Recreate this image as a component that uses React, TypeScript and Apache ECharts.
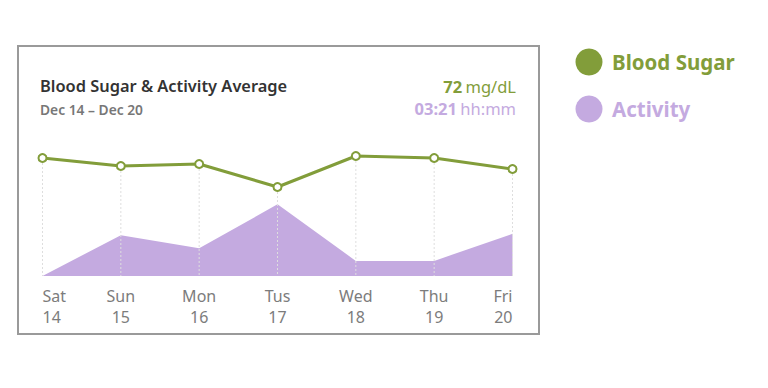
import React, { useEffect, useRef } from "react";
import * as echarts from "echarts";

const days = ["Sat", "Sun", "Mon", "Tus", "Wed", "Thu", "Fri"];
const dates = ["14", "15", "16", "17", "18", "19", "20"];
const bloodSugar = [76, 72, 73, 61.5, 77, 76, 70.5];
const activityMinutes = [0, 270, 184, 474, 100, 100, 279];
const avgSugar = "72";
const avgActivity = "03:21";

const GREEN = "#829d3a";
const PURPLE = "#c4aae0";
const FONT = "'Noto Sans', 'Open Sans', sans-serif";
const SUGAR_MIN = 17;
const SUGAR_MAX = 85;

export default function App() {
  const ref = useRef<HTMLDivElement>(null);
  useEffect(() => {
    if (!ref.current) return;
    const chart = echarts.init(ref.current, null, { renderer: "svg" });
    const categories = days.map((d, i) => d + "\n" + dates[i]);
    chart.setOption({
      animation: false,
      textStyle: { fontFamily: FONT },
      grid: { left: 42.5, width: 470, top: 140, bottom: 112, containLabel: false },
      xAxis: {
        type: "category",
        data: categories,
        boundaryGap: false,
        axisLine: { show: false },
        axisTick: { show: false },
        splitLine: { show: false },
        axisLabel: {
          color: "#7c7c7c",
          fontSize: 16,
          lineHeight: 21,
          margin: 9,
          fontFamily: FONT,
          alignMinLabel: "left",
          alignMaxLabel: "right",
        },
      },
      yAxis: [
        { type: "value", min: SUGAR_MIN, max: SUGAR_MAX, show: false, splitLine: { show: false } },
        { type: "value", min: 0, max: 900, show: false, splitLine: { show: false } },
      ],
      series: [
        {
          name: "Activity",
          type: "line",
          yAxisIndex: 1,
          data: activityMinutes,
          symbol: "none",
          lineStyle: { width: 0 },
          areaStyle: { color: PURPLE, opacity: 1 },
          z: 1,
        },
        {
          name: "guides",
          type: "custom",
          yAxisIndex: 0,
          data: bloodSugar.map((v, i) => [i, v]),
          z: 2,
          silent: true,
          renderItem: (params: any, api: any) => {
            const top = api.coord([api.value(0), api.value(1)]);
            const bottom = api.coord([api.value(0), SUGAR_MIN]);
            return {
              type: "line",
              shape: { x1: top[0], y1: top[1] + 5, x2: bottom[0], y2: bottom[1] },
              style: { stroke: "#dedede", lineWidth: 1, lineDash: [2, 2] },
            };
          },
        },
        {
          name: "Blood Sugar",
          type: "line",
          yAxisIndex: 0,
          data: bloodSugar,
          symbol: "emptyCircle",
          symbolSize: 8,
          lineStyle: { color: GREEN, width: 3 },
          itemStyle: { color: GREEN, borderColor: GREEN, borderWidth: 1.8 },
          z: 3,
        },
      ],
      graphic: [
        {
          type: "rect",
          shape: { x: 18, y: 46, width: 521, height: 288 },
          style: { fill: "none", stroke: "#9a9a9a", lineWidth: 2 },
          z: 0,
        },
        {
          type: "text",
          x: 40,
          y: 85,
          style: {
            text: "Blood Sugar & Activity Average",
            font: `600 16.4px ${FONT}`,
            fill: "#333",
            verticalAlign: "middle",
          },
        },
        {
          type: "text",
          x: 40,
          y: 109.5,
          style: {
            text: "Dec 14 \u2013 Dec 20",
            font: `600 13.8px ${FONT}`,
            fill: "#777",
            verticalAlign: "middle",
          },
        },
        {
          type: "text",
          x: 516,
          y: 86,
          style: {
            text: `{b|${avgSugar}} {r|mg/dL}`,
            align: "right",
            verticalAlign: "middle",
            rich: {
              b: { fontFamily: FONT, fontSize: 16.5, fontWeight: 700, fill: GREEN, color: GREEN },
              r: { fontFamily: FONT, fontSize: 16.5, fontWeight: 400, fill: GREEN, color: GREEN },
            },
          },
        },
        {
          type: "text",
          x: 516,
          y: 108,
          style: {
            text: `{b|${avgActivity}} {r|hh:mm}`,
            align: "right",
            verticalAlign: "middle",
            rich: {
              b: { fontFamily: FONT, fontSize: 16.5, fontWeight: 700, fill: PURPLE, color: PURPLE },
              r: { fontFamily: FONT, fontSize: 16.5, fontWeight: 400, fill: PURPLE, color: PURPLE },
            },
          },
        },
        {
          type: "circle",
          shape: { cx: 589, cy: 62, r: 13.5 },
          style: { fill: GREEN },
        },
        {
          type: "circle",
          shape: { cx: 589, cy: 109, r: 13.5 },
          style: { fill: PURPLE },
        },
        {
          type: "text",
          x: 612,
          y: 62,
          style: {
            text: "Blood Sugar",
            font: `700 20.5px ${FONT}`,
            fill: GREEN,
            verticalAlign: "middle",
          },
        },
        {
          type: "text",
          x: 612,
          y: 109,
          style: {
            text: "Activity",
            font: `700 20.5px ${FONT}`,
            fill: PURPLE,
            verticalAlign: "middle",
          },
        },
      ],
    });
    return () => chart.dispose();
  }, []);
  return (
    <div
      ref={ref}
      style={{ position: "fixed", left: 0, top: 0, width: 768, height: 388, background: "#fff" }}
    />
  );
}
